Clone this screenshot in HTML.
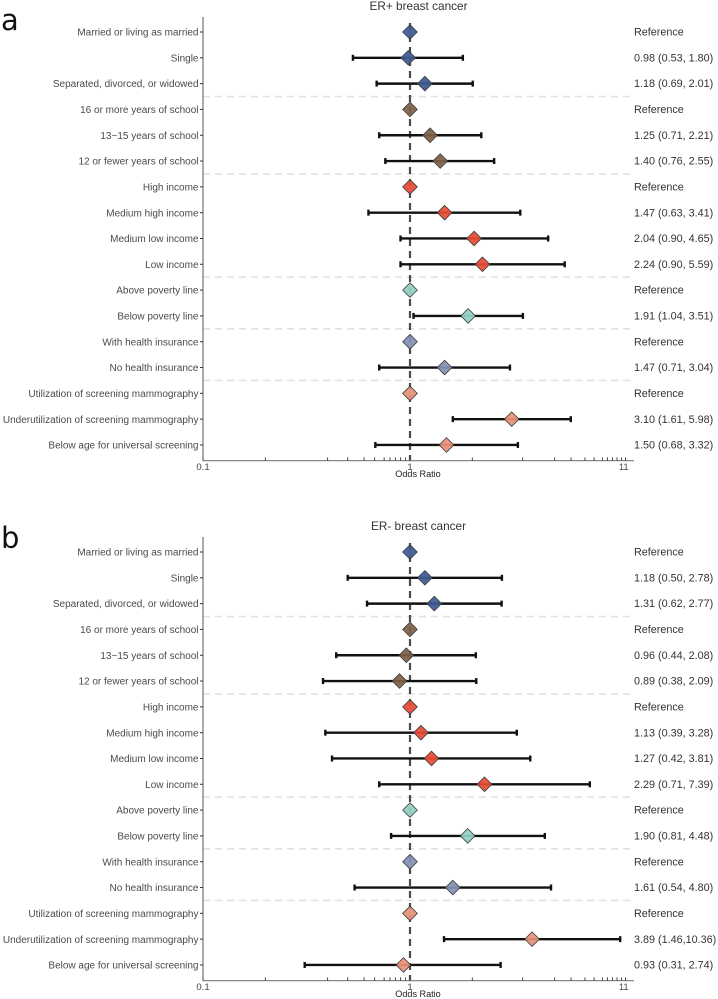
<!DOCTYPE html>
<html>
<head>
<meta charset="utf-8">
<style>
html,body{margin:0;padding:0;background:#fff;width:718px;height:999px;overflow:hidden}
svg{display:block}
text{font-family:"Liberation Sans",Arial,sans-serif}
</style>
</head>
<body>
<svg id="chart" width="718" height="999" viewBox="0 0 718 999" xmlns="http://www.w3.org/2000/svg"></svg>
<script>
const categories = ["Married or living as married","Single","Separated, divorced, or widowed","16 or more years of school","13\u221215 years of school","12 or fewer years of school","High income","Medium high income","Medium low income","Low income","Above poverty line","Below poverty line","With health insurance","No health insurance","Utilization of screening mammography","Underutilization of screening mammography","Below age for universal screening"];
const groupColors = ["#3F5A92","#3F5A92","#3F5A92","#7E6148","#7E6148","#7E6148","#E64B35","#E64B35","#E64B35","#E64B35","#91D1C2","#91D1C2","#8491B4","#8491B4","#E8917A","#E8917A","#E8917A"];
const separatorsAfter = [2,5,9,11,13];
const tickValues = [0.1,0.2,0.4,0.5,0.6,0.675,0.75,0.8,0.85,0.9,0.95,1,2,3.5,5,6,7,7.75,8.5,9,9.5,10,10.5,11];
const tickLabels = [0.1,1,11];
const erPosOR = [1,0.98,1.18,1,1.25,1.40,1,1.47,2.04,2.24,1,1.91,1,1.47,1,3.10,1.50];
const erPosLow = [null,0.53,0.69,null,0.71,0.76,null,0.63,0.90,0.90,null,1.04,null,0.71,null,1.61,0.68];
const erPosHigh = [null,1.80,2.01,null,2.21,2.55,null,3.41,4.65,5.59,null,3.51,null,3.04,null,5.98,3.32];
const erPosText = ["Reference","0.98 (0.53, 1.80)","1.18 (0.69, 2.01)","Reference","1.25 (0.71, 2.21)","1.40 (0.76, 2.55)","Reference","1.47 (0.63, 3.41)","2.04 (0.90, 4.65)","2.24 (0.90, 5.59)","Reference","1.91 (1.04, 3.51)","Reference","1.47 (0.71, 3.04)","Reference","3.10 (1.61, 5.98)","1.50 (0.68, 3.32)"];
const erNegOR = [1,1.18,1.31,1,0.96,0.89,1,1.13,1.27,2.29,1,1.90,1,1.61,1,3.89,0.93];
const erNegLow = [null,0.50,0.62,null,0.44,0.38,null,0.39,0.42,0.71,null,0.81,null,0.54,null,1.46,0.31];
const erNegHigh = [null,2.78,2.77,null,2.08,2.09,null,3.28,3.81,7.39,null,4.48,null,4.80,null,10.36,2.74];
const erNegText = ["Reference","1.18 (0.50, 2.78)","1.31 (0.62, 2.77)","Reference","0.96 (0.44, 2.08)","0.89 (0.38, 2.09)","Reference","1.13 (0.39, 3.28)","1.27 (0.42, 3.81)","2.29 (0.71, 7.39)","Reference","1.90 (0.81, 4.48)","Reference","1.61 (0.54, 4.80)","Reference","3.89 (1.46,10.36)","0.93 (0.31, 2.74)"];

const svg = document.getElementById('chart');
const NS = 'http://www.w3.org/2000/svg';
function mk(tag, attrs, parent, txt){
  const el = document.createElementNS(NS, tag);
  for (const k in attrs) el.setAttribute(k, attrs[k]);
  if (txt !== undefined) el.textContent = txt;
  parent.appendChild(el);
  return el;
}
const xScale = v => 410 + 207 * Math.log10(v);

function panel(letter, letterY, title, top, or, low, high, labels, slug){
  const yScale = i => top + 32 + i * 25.81;
  const axisY = top + 460.6;
  const g = mk('g', {}, svg);
  
  

  const pl = mk('text', {x: 1, y: letterY, 'font-size': 29, fill: '#111', style: 'font-family:"DejaVu Sans",sans-serif'}, g, letter);
  
  

  const tt = mk('text', {x: 418.5, y: top + 10, 'text-anchor': 'middle', 'font-size': 11.8, fill: '#333'}, g, title);
  
  

  separatorsAfter.forEach(s => {
    const y = (yScale(s) + yScale(s + 1)) / 2;
    const sep = mk('line', {x1: 203, x2: 634, y1: y, y2: y, stroke: '#e2e2e2', 'stroke-width': 1.6, 'stroke-dasharray': '7 5'}, g);
    
    
  });

  const yAxis = mk('line', {x1: 203, x2: 203, y1: top + 17, y2: axisY, stroke: '#555', 'stroke-width': 1}, g);
  
  

  const xAxis = mk('line', {x1: 203, x2: 634, y1: axisY, y2: axisY, stroke: '#888', 'stroke-width': 1.2}, g);
  
  

  tickValues.forEach(v => {
    const x = xScale(v);
    const t = mk('line', {x1: x, x2: x, y1: axisY - 3.2, y2: axisY, stroke: '#333', 'stroke-width': 0.9}, g);
    
    
  });
  tickLabels.forEach(v => {
    const lab = mk('text', {x: xScale(v) - (v === 11 ? 1.8 : 0), y: axisY + 9.6, 'text-anchor': 'middle', 'font-size': 9.5, fill: '#444'}, g, String(v));
    
    
  });
  const xt = mk('text', {x: 418, y: axisY + 16.6, 'text-anchor': 'middle', 'font-size': 9.1, fill: '#222'}, g, 'Odds Ratio');
  
  

  const ref = mk('line', {x1: 410, x2: 410, y1: top + 23, y2: axisY, stroke: '#4a4a4a', 'stroke-width': 2.2, 'stroke-dasharray': '7 5'}, g);
  
  

  categories.forEach((c, i) => {
    const y = yScale(i);
    const tick = mk('line', {x1: 200, x2: 203, y1: y, y2: y, stroke: '#333', 'stroke-width': 1}, g);
    
    

    const lab = mk('text', {x: 198.5, y: y + 3.6, 'text-anchor': 'end', 'font-size': 10, fill: '#4a4a4a'}, g, c);
    
    

    if (low[i] !== null) {
      const x1 = xScale(low[i]), x2 = xScale(high[i]);
      const w = mk('line', {x1: x1, x2: x2, y1: y, y2: y, stroke: '#111', 'stroke-width': 2.4}, g);
      
      
      [x1, x2].forEach(cx => {
        const cap = mk('line', {x1: cx, x2: cx, y1: y - 3, y2: y + 3, stroke: '#111', 'stroke-width': 2.4}, g);
        
        
      });
    }
    const cx = xScale(or[i]), r = 7.3;
    const pts = cx + ',' + (y - r) + ' ' + (cx + r) + ',' + y + ' ' + cx + ',' + (y + r) + ' ' + (cx - r) + ',' + y;
    const d = mk('polygon', {points: pts, fill: groupColors[i], 'fill-opacity': 0.93, stroke: '#3a3a3a', 'stroke-width': 0.8}, g);
    
    

    const val = mk('text', {x: 634, y: y + 3.6, 'font-size': 10.8, fill: '#333'}, g, labels[i]);
    
    
  });
}
panel('a', 30, 'ER+ breast cancer', 0, erPosOR, erPosLow, erPosHigh, erPosText, 'er-positive');
panel('b', 548, 'ER- breast cancer', 520, erNegOR, erNegLow, erNegHigh, erNegText, 'er-negative');
</script>
</body>
</html>
